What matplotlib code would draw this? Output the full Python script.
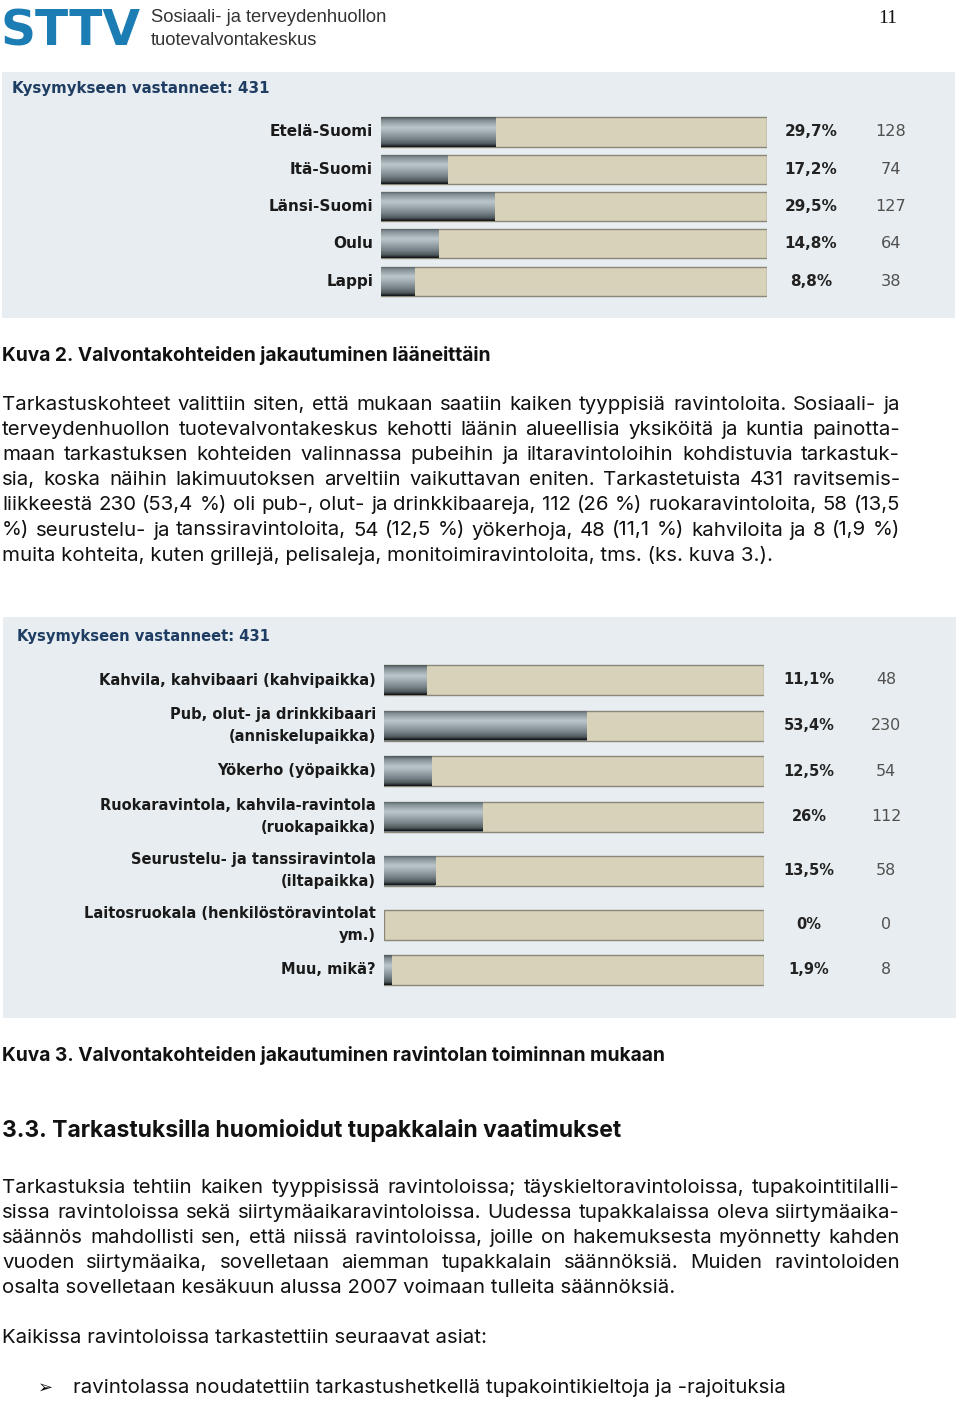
import numpy as np
import matplotlib
matplotlib.use("Agg")
import matplotlib.pyplot as plt
from matplotlib.patches import Rectangle
from matplotlib.colors import LinearSegmentedColormap

# --- data ---
regions = ["Etelä-Suomi", "Itä-Suomi", "Länsi-Suomi", "Oulu", "Lappi"]
region_pct = [29.7, 17.2, 29.5, 14.8, 8.8]
region_n = [128, 74, 127, 64, 38]

types = ["Kahvila, kahvibaari (kahvipaikka)",
         "Pub, olut- ja drinkkibaari\n(anniskelupaikka)",
         "Yökerho (yöpaikka)",
         "Ruokaravintola, kahvila-ravintola\n(ruokapaikka)",
         "Seurustelu- ja tanssiravintola\n(iltapaikka)",
         "Laitosruokala (henkilöstöravintolat\nym.)",
         "Muu, mikä?"]
type_pct = [11.1, 53.4, 12.5, 26, 13.5, 0, 1.9]
type_n = [48, 230, 54, 112, 58, 0, 8]

answered = 431

para1 = [
    "Tarkastuskohteet valittiin siten, että mukaan saatiin kaiken tyyppisiä ravintoloita. Sosiaali- ja",
    "terveydenhuollon tuotevalvontakeskus kehotti läänin alueellisia yksiköitä ja kuntia painotta-",
    "maan tarkastuksen kohteiden valinnassa pubeihin ja iltaravintoloihin kohdistuvia tarkastuk-",
    "sia, koska näihin lakimuutoksen arveltiin vaikuttavan eniten. Tarkastetuista 431 ravitsemis-",
    "liikkeestä 230 (53,4 %) oli pub-, olut- ja drinkkibaareja, 112 (26 %) ruokaravintoloita, 58 (13,5",
    "%) seurustelu- ja tanssiravintoloita, 54 (12,5 %) yökerhoja, 48 (11,1 %) kahviloita ja 8 (1,9 %)",
    "muita kohteita, kuten grillejä, pelisaleja, monitoimiravintoloita, tms. (ks. kuva 3.).",
]
para2 = [
    "Tarkastuksia tehtiin kaiken tyyppisissä ravintoloissa; täyskieltoravintoloissa, tupakointitilalli-",
    "sissa ravintoloissa sekä siirtymäaikaravintoloissa. Uudessa tupakkalaissa oleva siirtymäaika-",
    "säännös mahdollisti sen, että niissä ravintoloissa, joille on hakemuksesta myönnetty kahden",
    "vuoden siirtymäaika, sovelletaan aiemman tupakkalain säännöksiä. Muiden ravintoloiden",
    "osalta sovelletaan kesäkuun alussa 2007 voimaan tulleita säännöksiä.",
]

W, H = 960, 1401
fig = plt.figure(figsize=(W / 100, H / 100), dpi=100)
fig.patch.set_facecolor("white")
renderer = fig.canvas.get_renderer()


def fx(px):
    return px / W


def fy(py):
    return 1 - py / H


def panel(x0, y0, x1, y1, color):
    fig.patches.append(Rectangle((fx(x0), fy(y1)), fx(x1) - fx(x0), fy(y0) - fy(y1),
                                 transform=fig.transFigure, facecolor=color,
                                 edgecolor="none", zorder=-5))


def line_text(x0, x1, yb, text, justify, **kw):
    if not justify:
        fig.text(fx(x0), fy(yb), text, va="baseline", **kw)
        return
    words = text.split(" ")
    objs, widths = [], []
    for w in words:
        t = fig.text(0, fy(yb), w, va="baseline", **kw)
        objs.append(t)
        widths.append(t.get_window_extent(renderer).width)
    gap = (x1 - x0 - sum(widths)) / (len(words) - 1)
    x = x0
    for t, w in zip(objs, widths):
        t.set_x(fx(x))
        x += w + gap


body = dict(family="Inter", fontsize=14.7, color="#111111")
bold = dict(family="Inter", fontsize=13.8, color="#111111", weight="bold")

# --- header ---
fig.text(fx(1), fy(45), "STTV", family="DejaVu Sans", weight="heavy", fontsize=35,
         color="#1b7db3", va="baseline")
hdr = dict(family=["Liberation Sans Narrow", "Liberation Sans"], fontsize=13.2, color="#333333",
           va="baseline")
fig.text(fx(151), fy(22), "Sosiaali- ja terveydenhuollon", **hdr)
fig.text(fx(151), fy(45), "tuotevalvontakeskus", **hdr)
fig.text(fx(888), fy(23), "11", family="Liberation Serif", fontsize=14, color="#111111",
         ha="center", va="baseline")

# --- bar gradient ---
metal = LinearSegmentedColormap.from_list(
    "metal", [(0, "#4d575c"), (0.1, "#828e93"), (0.35, "#bcc7cb"), (0.5, "#a3afb4"),
              (0.75, "#748085"), (0.9, "#4f595e"), (1, "#101214")])
grad = np.linspace(0, 1, 64).reshape(-1, 1)

pct_font = dict(family="DejaVu Sans", weight="bold", color="#222222")
n_font = dict(family="DejaVu Sans", color="#505050")


def fmt_pct(v):
    return f"{v:g}".replace(".", ",") + "%"


def bar_chart(ax, labels, pct, counts, ys, h, lab_off, pct_off, n_off, fs, nfs):
    ax.barh(ys, [100] * len(ys), height=h, color="#d8d2bb", edgecolor="#8a8778",
            linewidth=1.0, zorder=1)
    bars = ax.barh(ys, pct, height=h, color="#6f7a7f", edgecolor="none", zorder=2)
    for b, y, v in zip(bars, ys, pct):
        if v <= 0:
            continue
        im = ax.imshow(grad, cmap=metal, aspect="auto", extent=(0, v, y + h / 2, y - h / 2),
                       zorder=3, interpolation="bilinear")
        im.set_clip_path(b)
    for lab, y, v, n in zip(labels, ys, pct, counts):
        ax.annotate(lab, xy=(0, y), xycoords=("axes fraction", "data"), xytext=(lab_off, 0),
                    textcoords="offset pixels", ha="right", va="center", linespacing=1.62,
                    family="DejaVu Sans", weight="bold", fontsize=fs, color="#1a1a1a")
        ax.annotate(fmt_pct(v), xy=(1, y), xycoords=("axes fraction", "data"),
                    xytext=(pct_off, 0), textcoords="offset pixels", ha="center",
                    va="center", fontsize=fs, **pct_font)
        ax.annotate(str(n), xy=(1, y), xycoords=("axes fraction", "data"),
                    xytext=(n_off, 0), textcoords="offset pixels", ha="center",
                    va="center", fontsize=nfs, **n_font)
    ax.set_xlim(0, 100)
    ax.axis("off")


title_font = dict(family="DejaVu Sans", weight="bold", color="#1f3d63", va="center")

# --- chart 1 ---
panel(2, 72, 955, 318, "#e7edf0")
fig.text(fx(12), fy(88), f"Kysymykseen vastanneet: {answered}", fontsize=10.8, **title_font)
step1 = 37.3
ax1 = fig.add_axes([fx(381), fy(132 + step1 * 4.5), fx(767) - fx(381), step1 * 5 / H])
ys1 = np.arange(len(regions))
bar_chart(ax1, regions, region_pct, region_n, ys1, 0.78, -8, 44, 124, 11.0, 11.6)
ax1.set_ylim(len(regions) - 0.5, -0.5)

# --- chart 2 ---
panel(3, 617, 956, 1018, "#e7edf0")
fig.text(fx(17), fy(637), f"Kysymykseen vastanneet: {answered}", fontsize=10.6, **title_font)
row_h = [37 if "\n" not in t else 54 for t in types]
edges = np.concatenate([[0], np.cumsum(row_h)])
ys2 = (edges[:-1] + edges[1:]) / 2
ax2 = fig.add_axes([fx(384), fy(680 - ys2[0] + edges[-1]), fx(764) - fx(384), edges[-1] / H])
bar_chart(ax2, types, type_pct, type_n, ys2, 30, -8, 45, 122, 10.5, 11.4)
ax2.set_ylim(edges[-1], 0)

# --- text ---
line_text(2, 900, 361, "Kuva 2. Valvontakohteiden jakautuminen lääneittäin", False, **bold)
for i, ln in enumerate(para1):
    line_text(2, 900, 410 + 25.1 * i, ln, i < len(para1) - 1, **body)
line_text(2, 900, 1061, "Kuva 3. Valvontakohteiden jakautuminen ravintolan toiminnan mukaan",
          False, **bold)
line_text(2, 900, 1137, "3.3. Tarkastuksilla huomioidut tupakkalain vaatimukset", False,
          family="Inter", fontsize=16.5, weight="bold", color="#111111")
for i, ln in enumerate(para2):
    line_text(2, 900, 1193 + 25 * i, ln, i < len(para2) - 1, **body)
line_text(2, 900, 1343, "Kaikissa ravintoloissa tarkastettiin seuraavat asiat:", False, **body)
fig.text(fx(38), fy(1393), "➢", family="DejaVu Sans", fontsize=13, color="#111111",
         va="baseline")
line_text(73, 900, 1393, "ravintolassa noudatettiin tarkastushetkellä tupakointikieltoja ja -rajoituksia",
          False, **body)

fig.savefig("out.png", dpi=100, facecolor="white")
